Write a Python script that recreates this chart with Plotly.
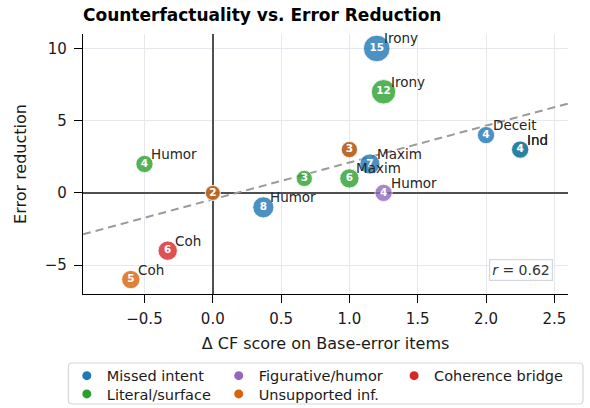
import numpy as np
import plotly.graph_objects as go

# ---------------- data ----------------
categories = ["Missed intent", "Literal/surface", "Figurative/humor",
              "Unsupported inf.", "Coherence bridge"]
cat_colors = ["#1f77b4", "#2ca02c", "#9467bd", "#d9620a", "#d62728"]

# per category points: delta CF, error reduction, n items, label
missed_x = [1.2, 1.15, 0.37, 2.0, 2.25, 1.0, 0.0]
missed_y = [10, 2, -1, 4, 3, 3, 0]
missed_n = [15, 7, 8, 4, 4, 3, 2]
missed_lab = ["Irony", "Maxim", "Humor", "Deceit", "Ind", "", ""]

literal_x = [1.25, 0.67, 1.0, -0.5, 2.25]
literal_y = [7, 1, 1, 2, 3]
literal_n = [12, 3, 6, 4, 4]
literal_lab = ["Irony", "", "Maxim", "Humor", "Ind"]

figur_x = [1.25]
figur_y = [0]
figur_n = [4]
figur_lab = ["Humor"]

unsup_x = [1.0, 0.0, -0.6]
unsup_y = [3, 0, -6]
unsup_n = [3, 2, 5]
unsup_lab = ["", "", "Coh"]

coh_x = [-0.33]
coh_y = [-4]
coh_n = [6]
coh_lab = ["Coh"]

r_text = "<i>r</i> = 0.62"

x_ticks = [-0.5, 0.0, 0.5, 1.0, 1.5, 2.0, 2.5]
y_ticks = [-5, 0, 5, 10]

groups = [
    ("Missed intent", missed_x, missed_y, missed_n, missed_lab),
    ("Literal/surface", literal_x, literal_y, literal_n, literal_lab),
    ("Figurative/humor", figur_x, figur_y, figur_n, figur_lab),
    ("Unsupported inf.", unsup_x, unsup_y, unsup_n, unsup_lab),
    ("Coherence bridge", coh_x, coh_y, coh_n, coh_lab),
]
color_of = dict(zip(categories, cat_colors))

FONT = "DejaVu Sans"
X_RANGE = [-0.95, 2.6]
Y_RANGE = [-7, 11]

fig = go.Figure()

# trend line (least squares over all points)
all_x = np.array(sum([g[1] for g in groups], []), dtype=float)
all_y = np.array(sum([g[2] for g in groups], []), dtype=float)
slope, intercept = np.polyfit(all_x, all_y, 1)
lx = np.array(X_RANGE)
fig.add_trace(go.Scatter(x=lx, y=slope * lx + intercept, mode="lines",
                         line=dict(color="#9a9a9a", width=2, dash="8px,5px"),
                         showlegend=False, hoverinfo="skip"))

# draw order: literal under missed, unsupported over missed
draw_order = ["Literal/surface", "Missed intent", "Figurative/humor",
              "Unsupported inf.", "Coherence bridge"]
gmap = {g[0]: g for g in groups}
for name in draw_order:
    _, xs, ys, ns, labs = gmap[name]
    fig.add_trace(go.Scatter(
        x=xs, y=ys, mode="markers+text",
        text=[str(n) for n in ns], textposition="middle center",
        textfont=dict(family=FONT, size=10.5, color="white", weight="bold"),
        marker=dict(size=[np.sqrt(150 + 37 * n) for n in ns],
                    color=color_of[name], opacity=0.8,
                    line=dict(color="white", width=0.8)),
        showlegend=False, hoverinfo="skip"))
    for x, y, lab in zip(xs, ys, labs):
        if lab:
            fig.add_annotation(x=x, y=y, text=lab, showarrow=False,
                               xanchor="left", yanchor="bottom",
                               xshift=5, yshift=0,
                               font=dict(family=FONT, size=13.5, color="#262626"))

# legend entries: one small legend per entry for exact placement
L, R, T, B = 82.7, 568.0, 34.0, 294.0
W, H = R - L, B - T
def px(xp):
    return (xp - L) / W
def py(yp):
    return (B - yp) / H

leg_pos = {
    "Missed intent": (66.5, 375.7),
    "Literal/surface": (66.5, 394.0),
    "Figurative/humor": (218.5, 375.7),
    "Unsupported inf.": (218.5, 394.0),
    "Coherence bridge": (394.0, 375.7),
}
legend_layout = {}
for i, name in enumerate(categories):
    key = "legend" if i == 0 else f"legend{i+1}"
    fig.add_trace(go.Scatter(x=[None], y=[None], mode="markers", name=name,
                             marker=dict(size=9, color=color_of[name]),
                             legend=key, showlegend=True))
    lxp, lyp = leg_pos[name]
    legend_layout[key] = dict(x=px(lxp), y=py(lyp), xref="paper", yref="paper",
                              xanchor="left", yanchor="middle",
                              bgcolor="rgba(0,0,0,0)", borderwidth=0,
                              font=dict(family=FONT, size=14.5, color="#1a1a1a"))

# legend frame (rounded)
x0, x1 = px(68), px(583)
y0, y1 = py(404), py(363)
rx, ry = 4 / W, 4 / H
path = (f"M {x0+rx},{y1} L {x1-rx},{y1} Q {x1},{y1} {x1},{y1-ry} "
        f"L {x1},{y0+ry} Q {x1},{y0} {x1-rx},{y0} L {x0+rx},{y0} "
        f"Q {x0},{y0} {x0},{y0+ry} L {x0},{y1-ry} Q {x0},{y1} {x0+rx},{y1} Z")
fig.add_shape(type="path", path=path, xref="paper", yref="paper",
              line=dict(color="#d4d7dd", width=1.2), fillcolor="white", layer="below")

# r annotation
fig.add_annotation(x=0.97, y=0.05, xref="paper", yref="paper", text=r_text,
                   showarrow=False, xanchor="right", yanchor="bottom",
                   font=dict(family=FONT, size=14, color="#333333"),
                   bgcolor="white", bordercolor="#d4d7dd", borderwidth=1.2, borderpad=2)

fig.update_layout(
    width=590, height=408,
    margin=dict(l=L, r=590 - R, t=T, b=408 - B, autoexpand=False),
    paper_bgcolor="white", plot_bgcolor="white",
    font=dict(family=FONT, color="#1a1a1a"),
    title=dict(text="<b>Counterfactuality vs. Error Reduction</b>",
               x=0, xref="paper", xanchor="left",
               y=1 - 15 / 408, yref="container", yanchor="middle",
               font=dict(family=FONT, size=17, color="black")),
    xaxis=dict(range=X_RANGE, tickvals=x_ticks, tickformat=".1f",
               showline=True, linecolor="black", linewidth=1.3,
               ticks="outside", ticklen=8, tickwidth=1.3, tickcolor="black",
               ticklabelstandoff=3,
               showgrid=True, gridcolor="#e6e8ee", gridwidth=1,
               zeroline=True, zerolinecolor="#505050", zerolinewidth=1.6,
               tickfont=dict(family=FONT, size=15, color="#1a1a1a"),
               automargin=False,
               title=dict(text="Δ CF score on Base-error items",
                          font=dict(family=FONT, size=16, color="#1a1a1a"),
                          standoff=10)),
    yaxis=dict(range=Y_RANGE, tickvals=y_ticks,
               showline=True, linecolor="black", linewidth=1.3,
               ticks="outside", ticklen=8, tickwidth=1.3, tickcolor="black",
               ticklabelstandoff=4,
               showgrid=True, gridcolor="#e6e8ee", gridwidth=1,
               zeroline=True, zerolinecolor="#505050", zerolinewidth=1.6,
               tickfont=dict(family=FONT, size=15, color="#1a1a1a"),
               automargin=False,
               title=dict(text="Error reduction",
                          font=dict(family=FONT, size=16, color="#1a1a1a"),
                          standoff=14)),
    **legend_layout,
)

fig.write_html("out.html", config={"displayModeBar": False},
               post_script="document.body.style.margin='0';document.body.style.padding='0';")
